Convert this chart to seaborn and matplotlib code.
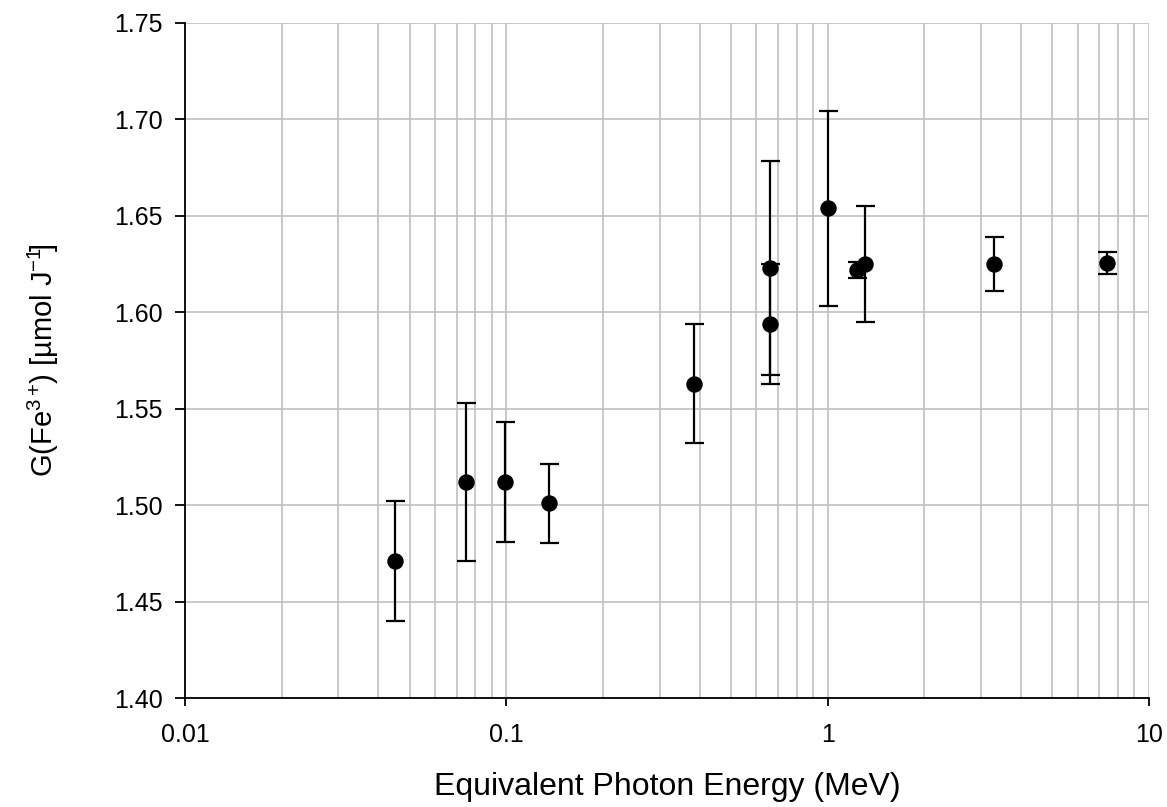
import numpy as np
import pandas as pd
import matplotlib
matplotlib.use('Agg')
import matplotlib.pyplot as plt
import seaborn as sns
from matplotlib.ticker import LogLocator, FixedLocator

# photon energy (MeV), G value and its uncertainty
energy = [0.045, 0.075, 0.0994, 0.136, 0.384, 0.662, 0.662, 1.0, 1.23, 1.31, 3.30, 7.39]
g_value = [1.471, 1.512, 1.512, 1.501, 1.563, 1.623, 1.594, 1.654, 1.622, 1.625, 1.625, 1.6255]
g_err = [0.031, 0.041, 0.031, 0.0205, 0.031, 0.0555, 0.031, 0.0505, 0.004, 0.030, 0.014, 0.0058]

x_ticks = [0.01, 0.1, 1, 10]
x_tick_labels = ['0.01', '0.1', '1', '10']
y_ticks = [1.40, 1.45, 1.50, 1.55, 1.60, 1.65, 1.70, 1.75]

df = pd.DataFrame({'E': energy, 'G': g_value, 'err': g_err})

sns.set_style('white')
plt.rcParams['font.family'] = ['Liberation Sans', 'DejaVu Sans']
plt.rcParams['mathtext.fontset'] = 'custom'
plt.rcParams['mathtext.rm'] = 'Liberation Sans'
plt.rcParams['mathtext.it'] = 'Liberation Sans'
plt.rcParams['mathtext.default'] = 'regular'
plt.rcParams['text.color'] = 'black'
plt.rcParams['axes.labelcolor'] = 'black'

fig, ax = plt.subplots(figsize=(11.67, 8.07), dpi=100)
fig.subplots_adjust(left=0.1585, right=0.9846, top=0.9715, bottom=0.135)

ax.set_xscale('log')
ax.errorbar(df['E'], df['G'], yerr=df['err'], fmt='none', ecolor='black',
            elinewidth=1.6, capsize=9.5 * 0.72, capthick=1.6, zorder=3)
sns.scatterplot(data=df, x='E', y='G', ax=ax, color='black', s=140,
                edgecolor='black', linewidth=0, zorder=4)

ax.set_xlim(0.01, 10)
ax.set_ylim(1.40, 1.75)
ax.xaxis.set_major_locator(FixedLocator(x_ticks))
ax.set_xticklabels(x_tick_labels)
ax.xaxis.set_minor_locator(LogLocator(base=10, subs=np.arange(2, 10)))
ax.set_yticks(y_ticks)
ax.set_yticklabels([f'{v:.2f}' for v in y_ticks])

ax.grid(True, which='major', color='#c0c0c0', linewidth=1.2)
ax.grid(True, which='minor', axis='x', color='#c0c0c0', linewidth=1.2)
ax.set_axisbelow(True)

for side in ['top', 'right']:
    ax.spines[side].set_visible(False)
for side in ['left', 'bottom']:
    ax.spines[side].set_color('black')
    ax.spines[side].set_linewidth(1.3)

ax.tick_params(axis='both', which='major', direction='out', width=1.3,
               colors='black', labelsize=18, left=True, bottom=True)
ax.tick_params(axis='y', which='major', length=7.2, pad=9)
ax.tick_params(axis='x', which='major', length=6, pad=12)
ax.tick_params(axis='x', which='minor', length=0)

ax.set_xlabel('Equivalent Photon Energy (MeV)', fontsize=23, labelpad=18)
ax.set_ylabel(r'G(Fe$^{3+}\!$) [µmol J$^{-1}\!$]', fontsize=21, labelpad=38)

fig.savefig('out.png', dpi=100)
